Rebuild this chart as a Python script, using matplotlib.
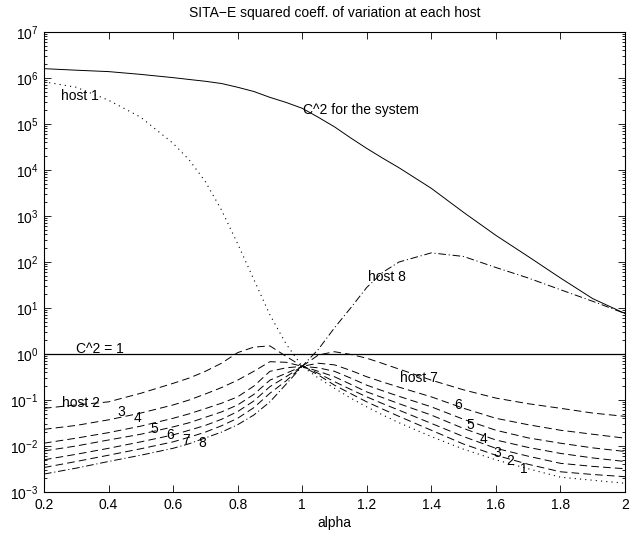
import numpy as np
import matplotlib
matplotlib.use("Agg")
import matplotlib.pyplot as plt
from matplotlib.ticker import FixedLocator, LogLocator, NullFormatter

plt.rcParams["font.family"] = ["Liberation Sans", "DejaVu Sans"]
plt.rcParams["mathtext.default"] = "regular"
plt.rcParams["lines.scale_dashes"] = False

# x values (alpha), shared by every series
alpha = [0.2, 0.3, 0.4, 0.5, 0.6, 0.65, 0.7, 0.75, 0.8, 0.85, 0.9, 0.95, 1.0,
         1.05, 1.1, 1.15, 1.2, 1.25, 1.3, 1.4, 1.5, 1.6, 1.7, 1.8, 1.9, 2.0]

# squared coefficient of variation
c2_system = [1.6e6, 1.48e6, 1.38e6, 1.2e6, 1.02e6, 9.3e5, 8.5e5, 7.6e5, 6.3e5, 5.1e5,
             3.8e5, 2.95e5, 2.2e5, 1.4e5, 8.7e4, 5.0e4, 2.95e4, 1.8e4, 1.12e4, 4.0e3,
             1.2e3, 3.8e2, 1.32e2, 45, 16, 7.6]
c2_host1 = [8.3e5, 6.3e5, 3.3e5, 1.4e5, 3.8e4, 1.66e4, 5.6e3, 1.35e3, 2.5e2, 42,
            7.1, 1.66, 0.54, 0.30, 0.18, 0.11, 0.071, 0.047, 0.032, 0.016,
            8.5e-3, 5.0e-3, 3.2e-3, 2.1e-3, 1.8e-3, 1.55e-3]
c2_host2 = [0.066, 0.078, 0.091, 0.14, 0.23, 0.30, 0.42, 0.63, 1.07, 1.41,
            1.5, 0.89, 0.54, 0.35, 0.21, 0.138, 0.091, 0.063, 0.044, 0.022,
            0.011, 6.3e-3, 4.0e-3, 2.75e-3, 2.4e-3, 2.15e-3]
c2_host3 = [0.023, 0.028, 0.037, 0.052, 0.078, 0.10, 0.135, 0.186, 0.27, 0.42,
            0.68, 0.66, 0.54, 0.38, 0.25, 0.17, 0.117, 0.083, 0.060, 0.031,
            0.016, 8.9e-3, 6.0e-3, 4.2e-3, 3.6e-3, 3.2e-3]
c2_host4 = [0.0115, 0.0148, 0.0195, 0.027, 0.040, 0.050, 0.065, 0.085, 0.117, 0.20,
            0.42, 0.50, 0.54, 0.42, 0.32, 0.22, 0.15, 0.112, 0.083, 0.047,
            0.024, 0.0135, 9.3e-3, 6.9e-3, 5.5e-3, 4.6e-3]
c2_host5 = [7.8e-3, 0.010, 0.0135, 0.018, 0.026, 0.032, 0.042, 0.055, 0.078, 0.132,
            0.27, 0.38, 0.54, 0.50, 0.42, 0.30, 0.21, 0.158, 0.12, 0.071,
            0.038, 0.022, 0.015, 0.0115, 9.1e-3, 7.6e-3]
c2_host6 = [5.0e-3, 6.6e-3, 8.9e-3, 0.0123, 0.0174, 0.022, 0.028, 0.038, 0.056, 0.095,
            0.195, 0.32, 0.54, 0.63, 0.58, 0.44, 0.32, 0.245, 0.19, 0.117,
            0.066, 0.040, 0.029, 0.022, 0.018, 0.0148]
c2_host7 = [3.4e-3, 4.6e-3, 6.3e-3, 8.7e-3, 0.0123, 0.0155, 0.020, 0.0275, 0.040, 0.068,
            0.14, 0.26, 0.54, 0.95, 1.12, 0.98, 0.81, 0.62, 0.47, 0.27,
            0.166, 0.11, 0.083, 0.066, 0.052, 0.044]
c2_host8 = [2.45e-3, 3.3e-3, 4.6e-3, 6.3e-3, 8.9e-3, 0.0112, 0.015, 0.020, 0.029, 0.047,
            0.091, 0.22, 0.54, 1.26, 3.7, 10, 28, 60, 100, 158,
            132, 76, 45, 25, 14, 7.6]

unity = 1.0

# label texts and where they sit (alpha, value)
label_text = ["C^2 for the system", "host 1", "C^2 = 1", "host 2", "3", "4", "5", "6",
              "7", "8", "host 7", "6", "5", "4", "3", "2", "1", "host 8"]
label_x = [1.003, 0.252, 0.30, 0.255, 0.429, 0.479, 0.531, 0.58, 0.627, 0.677,
           1.303, 1.471, 1.509, 1.55, 1.592, 1.631, 1.675, 1.204]
label_y = [2.0e5, 4.1e5, 1.3, 0.087, 0.056, 0.041, 0.023, 0.0172, 0.0137, 0.0117,
           0.30, 0.076, 0.029, 0.0143, 7.0e-3, 4.6e-3, 3.1e-3, 48]

xticks = [0.2, 0.4, 0.6, 0.8, 1.0, 1.2, 1.4, 1.6, 1.8, 2.0]
xtick_labels = ["0.2", "0.4", "0.6", "0.8", "1", "1.2", "1.4", "1.6", "1.8", "2"]

fig = plt.figure(figsize=(6.3, 5.34), dpi=100)
ax = fig.add_axes([0.0698, 0.0787, 0.9222, 0.8613])

dash = (5.5, 3.0)
lw = 0.7
ax.plot(alpha, c2_system, "-", color="k", lw=lw)
ax.plot(alpha, c2_host1, color="k", lw=0.8, linestyle=(0, (0.8, 3.0)))
for series in [c2_host2, c2_host3, c2_host4, c2_host5, c2_host6, c2_host7]:
    ax.plot(alpha, series, color="k", lw=lw, linestyle=(0, dash))
ax.plot(alpha, c2_host8, color="k", lw=lw, linestyle=(0, (5.5, 2.0, 0.8, 2.0)))
ax.axhline(unity, color="k", lw=0.9)

for t, x, y in zip(label_text, label_x, label_y):
    ax.text(x, y, t, ha="left", va="center", fontsize=10)

ax.set_yscale("log")
ax.set_xlim(0.2, 2.0)
ax.set_ylim(1e-3, 1e7)
ax.xaxis.set_major_locator(FixedLocator(xticks))
ax.set_xticklabels(xtick_labels)
ax.yaxis.set_major_locator(LogLocator(base=10, numticks=20))
ax.yaxis.set_minor_locator(LogLocator(base=10, subs=np.arange(2, 10), numticks=20))
ax.yaxis.set_minor_formatter(NullFormatter())
ax.tick_params(which="both", direction="in", top=True, right=True, labelsize=10,
               width=0.6)
ax.tick_params(which="major", length=5, pad=4)
ax.tick_params(which="minor", length=2.5)
for s in ax.spines.values():
    s.set_linewidth(0.8)

ax.set_title("SITA\u2212E squared coeff. of variation at each host", fontsize=10, pad=11)
ax.set_xlabel("alpha", fontsize=10, labelpad=3)

fig.savefig("out.png", dpi=100)
